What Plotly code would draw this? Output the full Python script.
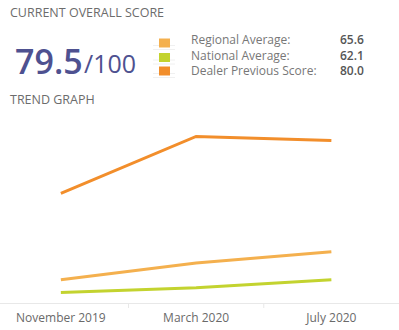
import plotly.graph_objects as go

W, H = 399, 330

periods = ["November 2019", "March 2020", "July 2020"]
dealer = [72.9, 80.0, 79.5]
regional = [62.1, 64.2, 65.6]
national = [60.5, 61.1, 62.1]

current_score = "79.5"
score_max = "/100"
legend_labels = ["Regional Average:", "National Average:", "Dealer Previous Score:"]
legend_values = ["65.6", "62.1", "80.0"]
colors = ["#F4B04E", "#C3D32F", "#F28E2B"]

FONT = "Open Sans"


def px(x):
    return x / W


def py(y):
    return (H - y) / H


fig = go.Figure()
xs = list(range(len(periods)))
for name, vals, col in [("Regional Average", regional, colors[0]),
                        ("National Average", national, colors[1]),
                        ("Dealer", dealer, colors[2])]:
    fig.add_trace(go.Scatter(x=xs, y=vals, mode="lines", name=name,
                             line=dict(color=col, width=3), hoverinfo="skip"))

plot_top, plot_bot = 110, 303
y0 = 59.2
y1 = y0 + (plot_bot - plot_top) / 8.01

fig.update_layout(
    width=W, height=H,
    margin=dict(l=0, r=0, t=0, b=0),
    paper_bgcolor="white", plot_bgcolor="white",
    showlegend=False,
    font=dict(family=FONT, color="#666666"),
    xaxis=dict(range=[-0.45, 2.5], tickvals=xs, ticktext=periods,
               showgrid=False, zeroline=False, showline=True,
               linecolor="#e8e8e8", linewidth=1, ticks="",
               ticklabelstandoff=4,
               tickfont=dict(size=12, color="#6a6a6a", family=FONT),
               fixedrange=True),
    yaxis=dict(range=[y0, y1], domain=[py(plot_bot), py(plot_top)],
               showticklabels=False, showgrid=False, zeroline=False,
               showline=False, fixedrange=True),
)

# category separators below the axis
for sx in [0.5, 1.5]:
    fig.add_shape(type="line", xref="x", yref="paper", x0=sx, x1=sx,
                  y0=py(303), y1=py(308), line=dict(color="#e8e8e8", width=1))

ann = []
ann.append(dict(text="CURRENT OVERALL SCORE", x=px(8), y=py(12), xanchor="left",
                yanchor="middle", font=dict(size=12.5, color="#6c6c6c", family=FONT,
                                            weight=500)))
ann.append(dict(text="TREND GRAPH", x=px(8), y=py(99), xanchor="left",
                yanchor="middle", font=dict(size=12.5, color="#6c6c6c", family=FONT,
                                            weight=500)))
ann.append(dict(text=current_score, x=px(13), y=py(61), xanchor="left",
                yanchor="middle", font=dict(size=34, color="#4E5190", family=FONT,
                                            weight=600)))
ann.append(dict(text=score_max, x=px(82), y=py(63), xanchor="left",
                yanchor="middle", font=dict(size=25, color="#4E5190", family=FONT,
                                            weight=400)))

sq_y = [43, 57.5, 71]
for i in range(3):
    fig.add_shape(type="rect", xref="paper", yref="paper",
                  x0=px(159), x1=px(170), y0=py(sq_y[i] - 4.5), y1=py(sq_y[i] + 4.5),
                  fillcolor=colors[i], line=dict(width=0))
    for dy in [2.5, 6.5]:
        fig.add_shape(type="line", xref="paper", yref="paper",
                      x0=px(153), x1=px(175), y0=py(sq_y[i] + dy), y1=py(sq_y[i] + dy),
                      line=dict(color="#f0f0f0", width=1), layer="below")

ann.append(dict(text="<br>".join(legend_labels), x=px(190), y=py(55), xanchor="left",
                yanchor="middle", align="left", borderpad=0,
                font=dict(size=12, color="#777777", family=FONT)))
ann.append(dict(text="<br>".join(legend_values), x=px(365), y=py(55), xanchor="right",
                yanchor="middle", align="right", borderpad=0,
                font=dict(size=12, color="#555555", family=FONT, weight=600)))

for a in ann:
    a.update(xref="paper", yref="paper", showarrow=False)
fig.update_layout(annotations=ann)

fig.write_html("out.html")
